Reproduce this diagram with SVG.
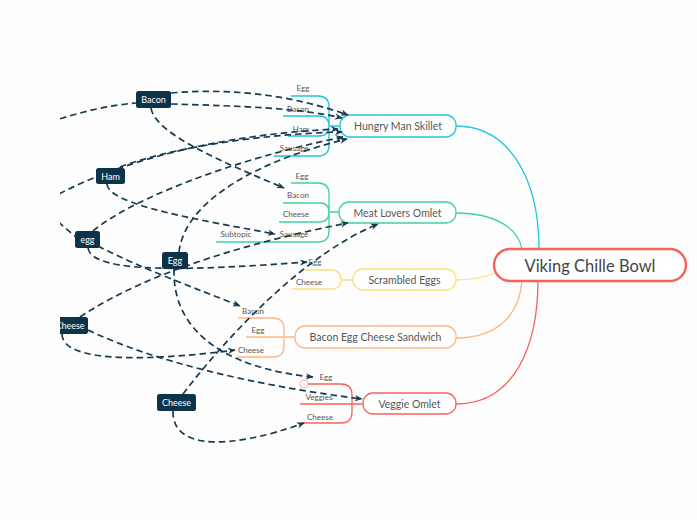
<svg xmlns="http://www.w3.org/2000/svg" width="697" height="520" viewBox="0 0 697 520">
<style>
text{font-family:Lato,"Open Sans","DejaVu Sans",sans-serif;dominant-baseline:central;text-anchor:middle}
.sub{font-size:8px;fill:#555}
.br{font-size:10.5px;fill:#555}
.root{font-size:16.5px;fill:#444}
.ft{font-size:9px;fill:#fff}
.fn{fill:#0d3349}
.rel{fill:none;stroke:#173b50;stroke-width:1.7;stroke-dasharray:6.5 4;marker-end:url(#arr)}
.cy{stroke:#22c5d9}.gr{stroke:#3fd0a3}.ye{stroke:#f9e27a}.or{stroke:#fdb784}.rd{stroke:#f7625b}
.ln{fill:none;stroke-width:1.3}
.nd{fill:#fff;stroke-width:1.3}
</style>
<defs>
<marker id="arr" viewBox="0 0 10 10" refX="9" refY="5" markerWidth="8" markerHeight="8" markerUnits="userSpaceOnUse" orient="auto">
<path d="M0,1 L10,5 L0,9 L3,5 z" fill="#173b50"/>
</marker>
<clipPath id="clip"><rect x="60" y="0" width="637" height="520"/></clipPath>
</defs>
<rect width="697" height="520" fill="#fdfdfd"/>
<g clip-path="url(#clip)">
<g id="branch-lines">
<path class="ln cy" d="M456,126 C510,126 539,180 539,249"/>
<path class="ln gr" d="M456,213 C495,213 518,228 522,249"/>
<path class="ln ye" d="M456,280 C475,280 485,277 495,273"/>
<path class="ln or" d="M456,338 C500,338 520,312 522,280"/>
<path class="ln rd" d="M456,404 C515,404 538,345 538,280"/>
<path class="ln cy" d="M340,126 H329 V107 Q329,96 318,96 H291 M340,126 H329 Q329,116 319,116 H283 M340,126 H329 Q329,136 319,136 H288 M340,126 H329 V145 Q329,156 318,156 H274"/>
<path class="ln gr" d="M339,212 H329 V194 Q329,183 318,183 H291 M339,212 H329 Q329,203 320,203 H283 M339,212 H329 Q329,222 319,222 H279 M339,212 H329 V231 Q329,242 318,242 H216"/>
<path class="ln ye" d="M353,280 H341 Q341,270 331,270 H305 M353,280 H341 Q341,289 332,289 H292"/>
<path class="ln or" d="M295,337 H284 V329 Q284,318 273,318 H238 M295,337 H246 M295,337 H284 V346 Q284,357 273,357 H237"/>
<path class="ln rd" d="M363,404 H352 V395 Q352,384 341,384 H308 M363,404 H300 M363,404 H352 V412 Q352,423 341,423 H300"/>
</g>
<g id="root"><rect x="494" y="249" width="192" height="32" rx="16" fill="#fff" stroke="#f7625b" stroke-width="2.4"/><text class="root" x="590" y="265.5">Viking Chille Bowl</text></g>
<g id="hungry-man-skillet"><rect class="nd cy" x="340" y="115" width="116" height="22" rx="10"/><text class="br" x="398" y="126">Hungry Man Skillet</text>
<text class="sub" x="303" y="88">Egg</text><text class="sub" x="298" y="108.5">Bacon</text><text class="sub" x="301" y="128.5">Ham</text><text class="sub" x="294" y="148">Sausage</text></g>
<g id="meat-lovers-omlet"><rect class="nd gr" x="339" y="202" width="117" height="21" rx="10"/><text class="br" x="397.5" y="212.5">Meat Lovers Omlet</text>
<text class="sub" x="302" y="176">Egg</text><text class="sub" x="298" y="195">Bacon</text><text class="sub" x="296" y="214">Cheese</text><text class="sub" x="294" y="234">Sausage</text><text class="sub" x="236" y="234">Subtopic</text></g>
<g id="scrambled-eggs"><rect class="nd ye" x="353" y="269" width="103" height="21" rx="10"/><text class="br" x="404.5" y="279.5">Scrambled Eggs</text>
<text class="sub" x="315" y="262">Egg</text><text class="sub" x="309" y="281.5">Cheese</text></g>
<g id="bacon-egg-cheese-sandwich"><rect class="nd or" x="295" y="326" width="161" height="22" rx="10"/><text class="br" x="375.5" y="337">Bacon Egg Cheese Sandwich</text>
<text class="sub" x="253" y="311">Bacon</text><text class="sub" x="258" y="330">Egg</text><text class="sub" x="251" y="349.5">Cheese</text></g>
<g id="veggie-omlet"><rect class="nd rd" x="363" y="393" width="93" height="21" rx="10"/><text class="br" x="409.5" y="403.5">Veggie Omlet</text>
<text class="sub" x="326" y="377">Egg</text><text class="sub" x="319" y="397">Veggies</text><text class="sub" x="320" y="417">Cheese</text>
<circle cx="304" cy="384" r="4" fill="#fff" stroke="#f9aaa6" stroke-width="0.9"/><text x="304" y="384.3" style="font-size:4.5px;fill:#f9aaa6">1</text></g>
<g id="connectors">
<path class="rel" d="M171,93 C240,87 300,98 348,115"/>
<path class="rel" d="M171,104 C240,106 300,108 342,118"/>
<path class="rel" d="M151,108 C155,135 230,165 284,188"/>
<path class="rel" d="M50,122 C80,112 110,105 136,103" style="marker-end:none"/>
<path class="rel" d="M50,199 C100,170 200,135 338,129"/>
<path class="rel" d="M120,167 C170,148 260,134 342,132"/>
<path class="rel" d="M107,184 C108,205 200,220 275,234"/>
<path class="rel" d="M93,231 C130,200 230,160 343,137"/>
<path class="rel" d="M179,252 C185,200 260,160 347,139"/>
<path class="rel" d="M50,215 C62,225 70,232 76,237" style="marker-end:none"/>
<path class="rel" d="M88,248 C92,275 200,270 307,262"/>
<path class="rel" d="M98,246 C140,268 200,290 240,306"/>
<path class="rel" d="M80,317 C150,270 260,240 348,223"/>
<path class="rel" d="M183,394 C205,365 290,260 378,224"/>
<path class="rel" d="M88,330 C150,360 250,385 362,399"/>
<path class="rel" d="M62,334 C62,365 160,360 235,350"/>
<path class="rel" d="M174,269 C172,340 240,370 313,377"/>
<path class="rel" d="M173,411 C172,450 230,450 304,423"/>
</g>
<g id="float-bacon"><rect class="fn" x="136" y="91" width="35" height="17" rx="2.5"/><text class="ft" x="153.5" y="99.5">Bacon</text></g>
<g id="float-ham"><rect class="fn" x="96" y="168" width="29" height="16" rx="2.5"/><text class="ft" x="110.5" y="176">Ham</text></g>
<g id="float-egg-lower"><rect class="fn" x="75" y="231" width="25" height="17" rx="2.5"/><text class="ft" x="87.5" y="239.5">egg</text></g>
<g id="float-egg"><rect class="fn" x="162" y="252" width="26" height="17" rx="2.5"/><text class="ft" x="175" y="260.5">Egg</text></g>
<g id="float-cheese-left"><rect class="fn" x="52" y="317" width="36" height="17" rx="2.5"/><text class="ft" x="70" y="325.5">Cheese</text></g>
<g id="float-cheese-bottom"><rect class="fn" x="157" y="394" width="39" height="17" rx="2.5"/><text class="ft" x="176.5" y="402.5">Cheese</text></g>
</g>
</svg>
